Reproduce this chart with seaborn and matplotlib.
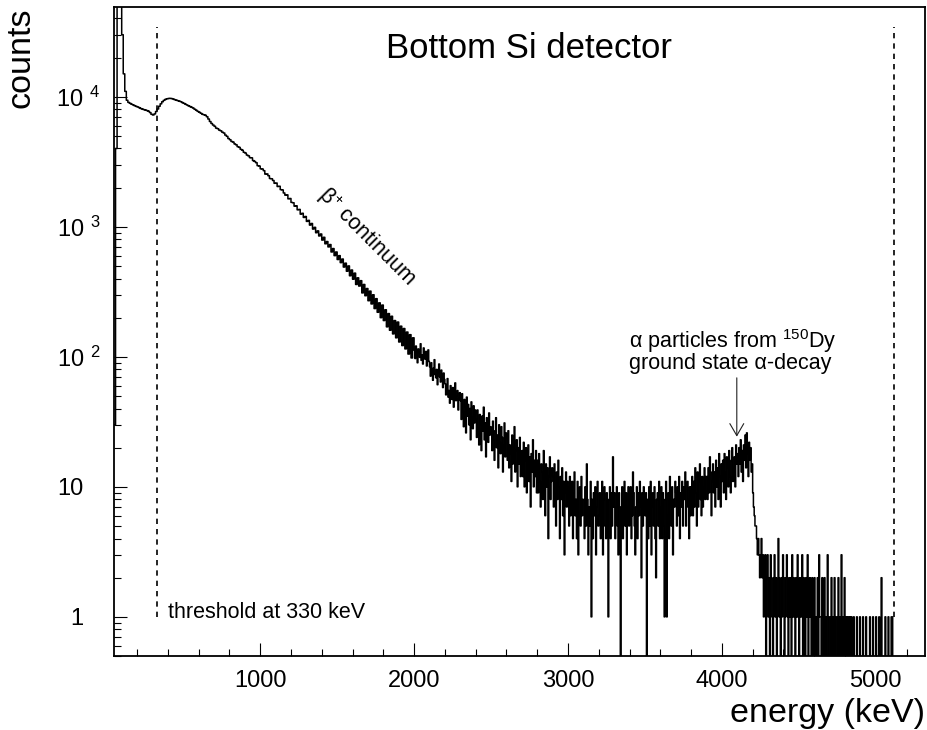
import numpy as np
import pandas as pd
import matplotlib
matplotlib.use("Agg")
import matplotlib.pyplot as plt
import matplotlib.transforms as mtrans
from matplotlib.ticker import FixedLocator, FixedFormatter, MultipleLocator, LogLocator, NullFormatter
from matplotlib.patches import ArrowStyle
import seaborn as sns

# ---------------- data ----------------
# 10 keV bins from 50 keV to 2000 keV
counts_050_130 = [30, 4000, 90000, 200000, 90000, 30000, 15000, 11000, 9400]

counts_140_930 = [
    9050, 8900, 8760, 8650, 8540, 8430, 8350, 8240, 8120, 8040,
    7960, 7900, 7830, 7740, 7560, 7330, 7240, 7380, 7700, 8050,
    8450, 8820, 9150, 9380, 9540, 9640, 9700, 9720, 9680, 9610,
    9500, 9420, 9330, 9250, 9160, 9020, 8900, 8760, 8640, 8520,
    8410, 8300, 8180, 8020, 7870, 7720, 7600, 7470, 7330, 7270,
    7200, 7020, 6740, 6450, 6230, 6060, 5930, 5740, 5680, 5540,
    5470, 5340, 5260, 5070, 4960, 4770, 4670, 4530, 4480, 4340,
    4270, 4130, 4080, 3940, 3880, 3740, 3690, 3560, 3510, 3400,
]

counts_940_1510 = [
    3390, 3230, 3180, 3110, 2950, 2930, 2790, 2780, 2700, 2540,
    2550, 2470, 2350, 2340, 2270, 2160, 2170, 2040, 2050, 1930,
    1920, 1820, 1750, 1760, 1640, 1650, 1540, 1530, 1440, 1450,
    1350, 1360, 1250, 1270, 1180, 1200, 1100, 1120, 1030, 1060,
    960, 990, 900, 930, 850, 880, 790, 830, 740, 770,
    700, 730, 640, 680, 600, 640, 560, 600,
]

counts_1520_1990 = [
    530, 565, 490, 525, 455, 500, 420, 465, 395, 440,
    360, 405, 350, 385, 310, 360, 295, 335, 270, 320,
    255, 300, 235, 280, 220, 260, 200, 250, 190, 230,
    170, 215, 160, 205, 150, 190, 140, 185, 130, 172,
    122, 165, 115, 155, 105, 148, 98, 140,
]

# 5 keV bins from 2000 keV to 5320 keV (20 bins per 100 keV)
counts_2000 = [112, 97, 121, 104, 90, 115, 108, 99, 126, 94, 103, 88, 117, 106, 96, 110, 85, 101, 113, 92]
counts_2100 = [84, 71, 90, 77, 66, 82, 95, 73, 69, 80, 61, 76, 88, 70, 64, 79, 72, 58, 75, 67]
counts_2200 = [62, 51, 57, 68, 49, 55, 44, 60, 53, 47, 58, 41, 52, 63, 46, 50, 55, 39, 48, 53]
counts_2300 = [46, 33, 52, 38, 29, 47, 41, 26, 49, 35, 43, 30, 40, 23, 45, 34, 28, 42, 31, 39]
counts_2400 = [33, 24, 39, 28, 21, 36, 30, 19, 35, 27, 41, 23, 31, 17, 34, 26, 22, 37, 25, 29]
counts_2500 = [28, 19, 32, 23, 16, 27, 34, 20, 25, 14, 30, 22, 18, 29, 24, 13, 21, 31, 17, 26]
counts_2600 = [24, 16, 27, 14, 21, 18, 11, 25, 15, 20, 29, 13, 19, 23, 10, 20, 15, 24, 12, 18]
counts_2700 = [19, 12, 22, 10, 16, 20, 9, 15, 21, 11, 17, 7, 18, 13, 23, 10, 16, 12, 19, 9]
counts_2800 = [16, 9, 18, 11, 7, 15, 13, 8, 19, 10, 6, 15, 10, 14, 4, 12, 17, 8, 11, 14]
counts_2900 = [12, 7, 15, 9, 5, 13, 8, 16, 10, 4, 12, 8, 14, 6, 11, 3, 9, 13, 7, 11]
counts_3000 = [10, 5, 12, 6, 8, 11, 4, 9, 13, 6, 8, 4, 11, 3, 9, 10, 5, 12, 6, 8]
counts_3100 = [8, 4, 10, 5, 15, 8, 3, 7, 5, 11, 1, 8, 4, 9, 6, 10, 3, 7, 11, 5]
counts_3200 = [6, 9, 4, 7, 11, 3, 8, 10, 5, 4, 9, 6, 1, 8, 10, 4, 9, 5, 17, 7]
counts_3300 = [9, 4, 7, 10, 5, 3, 9, 7, 0, 6, 10, 4, 8, 11, 5, 9, 3, 7, 10, 5]
counts_3400 = [8, 10, 4, 6, 13, 9, 5, 3, 7, 10, 4, 9, 6, 11, 7, 2, 9, 5, 10, 7]
counts_3500 = [6, 9, 0, 8, 4, 10, 5, 11, 3, 7, 9, 5, 10, 4, 2, 8, 9, 5, 11, 4]
counts_3600 = [7, 10, 4, 9, 5, 1, 8, 11, 1, 6, 9, 4, 12, 7, 5, 10, 3, 8, 7, 11]
counts_3700 = [9, 5, 10, 6, 12, 4, 9, 7, 11, 5, 10, 8, 13, 5, 7, 11, 8, 4, 10, 6]
counts_3800 = [10, 12, 6, 11, 7, 14, 9, 5, 13, 7, 11, 15, 8, 6, 12, 7, 10, 14, 8, 12]
counts_3900 = [12, 8, 14, 9, 17, 13, 6, 11, 15, 9, 13, 7, 16, 10, 14, 8, 18, 12, 7, 15]
counts_4000 = [11, 16, 9, 18, 13, 8, 17, 14, 10, 19, 12, 9, 16, 20, 11, 14, 17, 10, 21, 15]
counts_4100 = [18, 12, 20, 15, 23, 13, 19, 11, 21, 16, 25, 14, 26, 18, 12, 22, 16, 20, 13, 15]
counts_4200 = [9, 7, 6, 5, 5, 4, 3, 4, 3, 2, 3, 4, 2, 3, 1, 2, 3, 0, 2, 3]
counts_4300 = [1, 2, 0, 3, 2, 1, 0, 2, 3, 1, 2, 0, 1, 4, 2, 1, 0, 2, 1, 3]
counts_4400 = [2, 0, 1, 2, 3, 1, 0, 2, 1, 2, 0, 3, 1, 2, 1, 0, 2, 1, 3, 1]
counts_4500 = [0, 2, 1, 1, 3, 0, 2, 1, 0, 2, 1, 3, 0, 1, 2, 1, 0, 2, 1, 0]
counts_4600 = [2, 1, 0, 1, 2, 0, 3, 1, 1, 0, 2, 1, 0, 2, 1, 0, 1, 3, 0, 1]
counts_4700 = [1, 0, 2, 1, 0, 1, 2, 0, 1, 1, 0, 2, 1, 0, 1, 3, 0, 1, 0, 2]
counts_4800 = [0, 1, 0, 1, 1, 0, 1, 0, 1, 0, 0, 1, 0, 0, 0, 1, 0, 0, 0, 1]
counts_4900 = [0, 0, 0, 1, 0, 0, 0, 1, 0, 0, 0, 0, 1, 0, 0, 0, 1, 0, 0, 0]
counts_5000 = [1, 0, 0, 0, 1, 0, 0, 2, 0, 0, 0, 0, 1, 0, 0, 0, 1, 0, 0, 0]
counts_5100 = [1, 1, 0, 0, 0, 0, 0, 0, 0, 0, 0, 0, 0, 0, 0, 0, 0, 0, 0, 0]
counts_5200 = [0, 0, 0, 0, 0, 0, 0, 0, 0, 0, 0, 0, 0, 0, 0, 0, 0, 0, 0, 0]
counts_5300 = [0, 0, 0, 0]

thresholds_keV = [330, 5120]
x_ticks = [1000, 2000, 3000, 4000, 5000]
x_tick_labels = ["1000", "2000", "3000", "4000", "5000"]
y_ticks = [1, 10, 100, 1000, 10000]
y_tick_labels = ["1", "10", r"10 $^{\mathregular{2}}$", r"10 $^{\mathregular{3}}$", r"10 $^{\mathregular{4}}$"]

# ---------------- build table ----------------
counts_10keV = counts_050_130 + counts_140_930 + counts_940_1510 + counts_1520_1990
counts_5keV = (counts_2000 + counts_2100 + counts_2200 + counts_2300 + counts_2400
               + counts_2500 + counts_2600 + counts_2700 + counts_2800 + counts_2900
               + counts_3000 + counts_3100 + counts_3200 + counts_3300 + counts_3400
               + counts_3500 + counts_3600 + counts_3700 + counts_3800 + counts_3900
               + counts_4000 + counts_4100 + counts_4200 + counts_4300 + counts_4400
               + counts_4500 + counts_4600 + counts_4700 + counts_4800 + counts_4900
               + counts_5000 + counts_5100 + counts_5200 + counts_5300)
edges = np.concatenate([50 + 10 * np.arange(len(counts_10keV) + 1),
                        2000 + 5 * np.arange(1, len(counts_5keV) + 1)]).astype(float)
counts = np.array(counts_10keV + counts_5keV, dtype=float)
centers = 0.5 * (edges[:-1] + edges[1:])
df = pd.DataFrame({"energy": centers, "counts": counts})

# ---------------- style ----------------
sns.set_theme(style="white")
plt.rcParams["font.family"] = ["Liberation Sans", "DejaVu Sans"]
plt.rcParams["mathtext.fontset"] = "custom"
plt.rcParams["mathtext.rm"] = "Liberation Sans"
plt.rcParams["mathtext.it"] = "Liberation Sans:italic"
plt.rcParams["mathtext.bf"] = "Liberation Sans:bold"
for key in ["text.color", "axes.labelcolor", "xtick.color", "ytick.color", "axes.edgecolor"]:
    plt.rcParams[key] = "black"

fig = plt.figure(figsize=(9.27, 7.30), dpi=100)
W, H = 927, 730
ax = fig.add_axes([114 / W, 1 - 656 / H, 811 / W, 649 / H])

sns.histplot(data=df, x="energy", weights="counts", bins=list(edges),
             element="step", fill=False, color="black", linewidth=1.1, ax=ax)
ax.set_yscale("log")
ax.set_xlim(50, 5320)
ax.set_ylim(0.5, 4.9e4)

# threshold lines
ax.vlines(thresholds_keV, ymin=1.0, ymax=3.45e4, colors="black",
          linestyles=(0, (3.2, 3.0)), linewidth=1.2)

# frame
for sp in ax.spines.values():
    sp.set_visible(True)
    sp.set_color("black")
    sp.set_linewidth(1.3)

# ticks
ax.xaxis.set_major_locator(FixedLocator(x_ticks))
ax.xaxis.set_major_formatter(FixedFormatter(x_tick_labels))
ax.xaxis.set_minor_locator(MultipleLocator(200))
ax.yaxis.set_major_locator(FixedLocator(y_ticks))
ax.yaxis.set_major_formatter(FixedFormatter(y_tick_labels))
ax.yaxis.set_minor_locator(LogLocator(base=10, subs=np.arange(2, 10)))
ax.yaxis.set_minor_formatter(NullFormatter())

ax.tick_params(axis="both", which="both", direction="in", colors="black",
               top=False, right=False, bottom=True, left=True)
ax.tick_params(axis="both", which="major", length=9.4, width=0.8, labelsize=17,
               labelcolor="black")
ax.tick_params(axis="both", which="minor", length=4.7, width=0.8)
ax.tick_params(axis="x", which="major", pad=10)
ax.tick_params(axis="y", which="major", pad=22.3)

# axis labels
ax.set_xlabel("energy (keV)", fontsize=24.5, loc="right", color="black")
ax.xaxis.set_label_coords(1.0, -0.064)
ax.set_ylabel("counts", fontsize=24.5, loc="top", color="black")
ax.yaxis.set_label_coords(-0.095, 1.0)

# texts
ax.text(0.5117, 0.9214, "Bottom Si detector", transform=ax.transAxes,
        ha="center", va="baseline", fontsize=25, color="black")
ax.text(400, 0.982, "threshold at 330 keV", ha="left", va="baseline", fontsize=15.5,
        color="black")
ax.text(1688, 838, r"β$^{+}$ continuum", rotation=-45, rotation_mode="anchor",
        ha="center", va="center", fontsize=15.5, color="black")
ax.text(3396, 117, r"α particles from $^{\mathregular{150}}$Dy", ha="left",
        va="baseline", fontsize=15.5, color="black")
ax.text(3396, 80.9, "ground state α-decay", ha="left", va="baseline", fontsize=15.5,
        color="black")
ax.annotate("", xy=(4097, 24.3), xytext=(4097, 68.9),
            arrowprops=dict(arrowstyle=ArrowStyle("->", head_length=0.86, head_width=0.5),
                            mutation_scale=10, color="#222222", lw=0.8,
                            shrinkA=0, shrinkB=0))

# shift the exponent labels so that the "10" lines up with the plain labels
shift = mtrans.ScaledTranslation(0.17, 0, fig.dpi_scale_trans)
for tick, lab in zip(ax.yaxis.get_major_ticks(), y_tick_labels):
    if "$" in lab:
        tick.label1.set_transform(tick.label1.get_transform() + shift)

fig.savefig("out.png", dpi=100, facecolor="white")
